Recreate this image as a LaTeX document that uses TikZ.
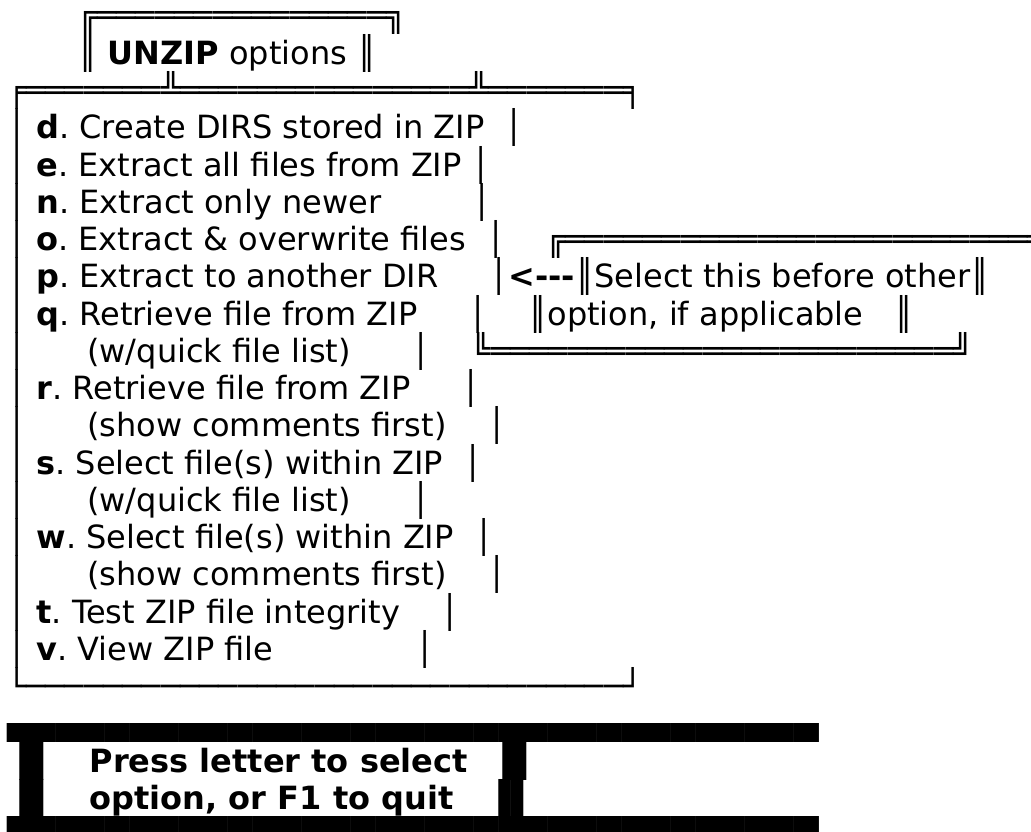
\documentclass[tikz,border=0pt]{standalone}
\usepackage{fontspec}
\setmainfont{DejaVu Sans}
\usetikzlibrary{positioning}

% n blanks of the current font, n copies of a glyph
\newcommand\blanks[1]{\hspace*{#1\fontdimen2\font}}
\newcommand\repchar[2]{\foreach \k in {1,...,#1}{#2}}

\begin{document}
\begin{tikzpicture}[x=1pt,y=-1pt,
  txtrow/.style={anchor=base west,inner sep=0pt,outer sep=0pt,
    font=\fontsize{32}{37.25}\selectfont\frenchspacing},
  boldrow/.style={txtrow,font=\fontsize{32}{37.25}\selectfont\frenchspacing\bfseries}]
  \useasboundingbox (0,0) rectangle (1031,832);

  % title tab
  \node[txtrow] (tabtop) at (7,27) {\blanks{7}╔\repchar{15}{═}╗};
  \node[txtrow] (tabrow) at (7,64.25) {\blanks{7}║ \textbf{UNZIP} options ║};

  % option box
  \node[txtrow] (boxtop) at (7,101.5) {╒\repchar{7}{═}╩\repchar{15}{═}╩\repchar{7}{═}╕};
  \node[txtrow] (optd) at (7,138.75) {│ \textbf{d}. Create DIRS stored in ZIP\blanks{2}│};
  \node[txtrow] (opte) at (7,176) {│ \textbf{e}. Extract all files from ZIP\blanks{1}│};
  \node[txtrow] (optn) at (7,213.25) {│ \textbf{n}. Extract only newer\blanks{9}│};
  \node[txtrow] (opto) at (7,250.5) {│ \textbf{o}. Extract \& overwrite files\blanks{2}│\blanks{4}╔\repchar{24}{═}╗};
  \node[txtrow] (optp) at (7,287.75) {│ \textbf{p}. Extract to another DIR\blanks{5}│\textbf{<-{}-{}-}║Select this before other║};
  \node[txtrow] (optq) at (7,325) {│ \textbf{q}. Retrieve file from ZIP\blanks{5}│\blanks{4}║option, if applicable\blanks{3}║};
  \node[txtrow] (optqb) at (7,362.25) {│\blanks{6}(w/quick file list)\blanks{6}│\blanks{4}╚\repchar{24}{═}╝};
  \node[txtrow] (optr) at (7,399.5) {│ \textbf{r}. Retrieve file from ZIP\blanks{5}│};
  \node[txtrow] (optrb) at (7,436.75) {│\blanks{6}(show comments first)\blanks{4}│};
  \node[txtrow] (opts) at (7,474) {│ \textbf{s}. Select file(s) within ZIP\blanks{2}│};
  \node[txtrow] (optsb) at (7,511.25) {│\blanks{6}(w/quick file list)\blanks{6}│};
  \node[txtrow] (optw) at (7,548.5) {│ \textbf{w}. Select file(s) within ZIP\blanks{2}│};
  \node[txtrow] (optwb) at (7,585.75) {│\blanks{6}(show comments first)\blanks{4}│};
  \node[txtrow] (optt) at (7,623) {│ \textbf{t}. Test ZIP file integrity\blanks{4}│};
  \node[txtrow] (optv) at (7,660.25) {│ \textbf{v}. View ZIP file\blanks{14}│};
  \node[txtrow] (boxbot) at (7,697.5) {└\repchar{31}{─}┘};

  % prompt band
  \node[txtrow] (bandtop) at (7,734.75) {\repchar{33}{▄}};
  \node[boldrow] (press) at (7,772) {▐▌\blanks{3}Press letter to select\blanks{2}▐▌};
  \node[boldrow] (quit) at (7,809.25) {▐▌\blanks{3}option, or F1 to quit\blanks{3}▐▌};
  \node[txtrow] (bandbot) at (7,846.5) {\repchar{33}{▀}};
\end{tikzpicture}
\end{document}
